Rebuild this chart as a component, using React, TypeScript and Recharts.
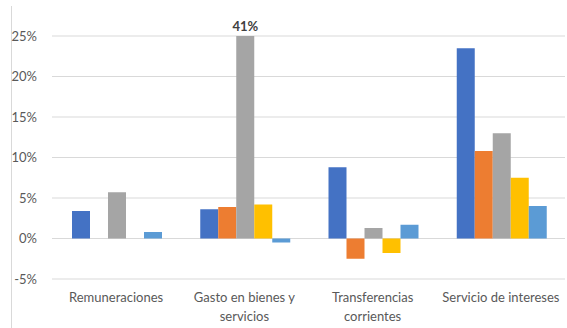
import React from "react";
import { BarChart, Bar, XAxis, YAxis, CartesianGrid, LabelList } from "recharts";

const categories = [
  "Remuneraciones",
  "Gasto en bienes y servicios",
  "Transferencias corrientes",
  "Servicio de intereses",
];
const tickLines: string[][] = [
  ["Remuneraciones"],
  ["Gasto en bienes y", "servicios"],
  ["Transferencias", "corrientes"],
  ["Servicio de intereses"],
];
const serieA = [3.4, 3.6, 8.8, 23.5];
const serieB: (number | null)[] = [null, 3.9, -2.5, 10.8];
const serieC = [5.7, 41, 1.3, 13.0];
const serieD: (number | null)[] = [null, 4.2, -1.8, 7.5];
const serieE = [0.8, -0.5, 1.7, 4.0];
const yTicks = [-5, 0, 5, 10, 15, 20, 25];

const data = categories.map((c, i) => ({
  name: c,
  a: serieA[i],
  b: serieB[i],
  c: serieC[i],
  d: serieD[i],
  e: serieE[i],
}));

const MARGIN = { top: 36, right: 2, left: 0, bottom: 0 };
const TEXT = "#595959";
const FONT = "Lato, 'Open Sans', sans-serif";

const XTick = (props: any) => {
  const { x, y, payload } = props;
  const idx = categories.indexOf(payload.value);
  const lines = idx >= 0 ? tickLines[idx] : [payload.value];
  return (
    <g transform={`translate(${x},${y})`}>
      {lines.map((l, i) => (
        <text
          key={i}
          x={0}
          y={i * 19}
          dy={15}
          textAnchor="middle"
          fill={TEXT}
          fontSize={13}
          fontFamily={FONT}
        >
          {l}
        </text>
      ))}
    </g>
  );
};

const OverflowLabel = (props: any) => {
  const { x, width, value, y } = props;
  if (value == null || value <= 25) return null;
  const top = Math.max(y, MARGIN.top);
  return (
    <text
      x={x + width / 2}
      y={top - 5}
      textAnchor="middle"
      fill="#404040"
      fontSize={13}
      fontWeight="bold"
      fontFamily={FONT}
    >
      {`${value}%`}
    </text>
  );
};

export default function App() {
  return (
    <div style={{ position: "absolute", left: 0, top: 0, width: 567, height: 328, background: "#fff" }}>
      <div
        style={{
          position: "absolute",
          left: 11,
          top: 6,
          width: 0,
          height: 322,
          borderLeft: "1px solid #D9D9D9",
        }}
      />
      <BarChart
        width={567}
        height={328}
        data={data}
        margin={MARGIN}
        barGap={0}
        barCategoryGap={20}
      >
        <CartesianGrid vertical={false} stroke="#D9D9D9" strokeWidth={1} />
        <XAxis
          dataKey="name"
          axisLine={false}
          tickLine={false}
          height={49}
          tick={<XTick />}
          interval={0}
        />
        <YAxis
          width={52}
          domain={[-5, 25]}
          ticks={yTicks}
          allowDataOverflow
          axisLine={false}
          tickLine={false}
          tickSize={0}
          tickMargin={15}
          tickFormatter={(v: number) => `${v}%`}
          tick={{ fill: TEXT, fontSize: 13, fontFamily: FONT }}
        />
        <Bar dataKey="a" fill="#4472C4" isAnimationActive={false} />
        <Bar dataKey="b" fill="#ED7D31" isAnimationActive={false} />
        <Bar dataKey="c" fill="#A5A5A5" isAnimationActive={false}>
          <LabelList dataKey="c" content={<OverflowLabel />} />
        </Bar>
        <Bar dataKey="d" fill="#FFC000" isAnimationActive={false} />
        <Bar dataKey="e" fill="#5B9BD5" isAnimationActive={false} />
      </BarChart>
    </div>
  );
}
